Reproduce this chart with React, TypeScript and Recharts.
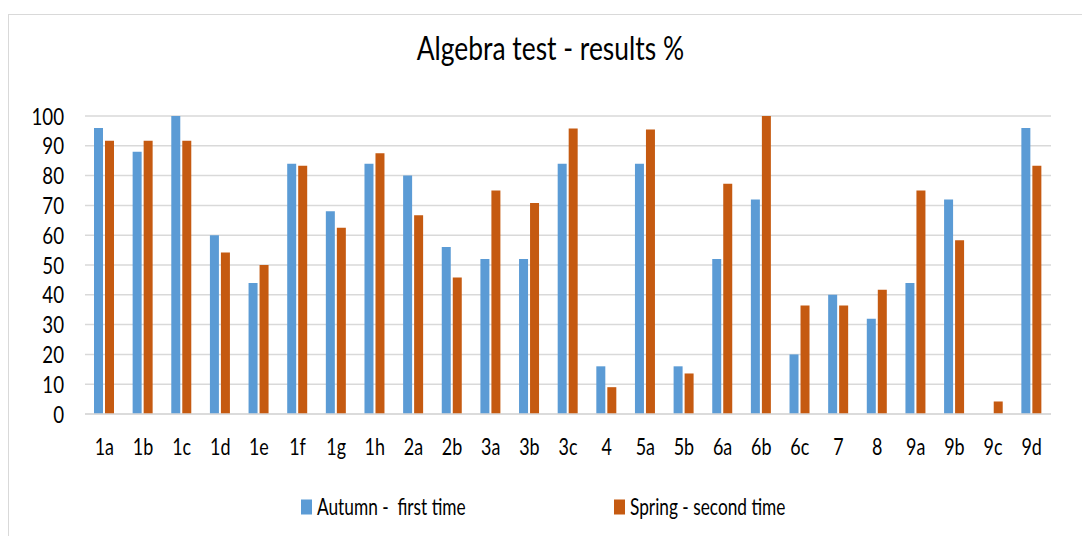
import { Bar, BarChart, CartesianGrid, Legend, XAxis, YAxis } from "recharts";

// 문항별 결과 (%)
const questions = [
  "1a", "1b", "1c", "1d", "1e", "1f", "1g", "1h", "2a", "2b", "3a", "3b", "3c",
  "4", "5a", "5b", "6a", "6b", "6c", "7", "8", "9a", "9b", "9c", "9d",
];
const autumn = [96, 88, 100, 60, 44, 84, 68, 84, 80, 56, 52, 52, 84, 16, 84, 16, 52, 72, 20, 40, 32, 44, 72, 0, 96];
const spring = [91.7, 91.7, 91.7, 54.2, 50, 83.3, 62.5, 87.5, 66.7, 45.8, 75, 70.8, 95.8, 9, 95.5, 13.6, 77.3, 100, 36.4, 36.4, 41.7, 75, 58.3, 4.2, 83.3];
const yTicks = [0, 10, 20, 30, 40, 50, 60, 70, 80, 90, 100];

const AUTUMN_NAME = "Autumn -  first time";
const SPRING_NAME = "Spring - second time";

const FONT = "Lato, 'Open Sans', sans-serif";

const chartData = questions.map((q, i) => ({
  question: q,
  autumn: autumn[i],
  spring: spring[i],
}));

// 원본 이미지가 세로로 늘어나 있어서 글자를 가로로 살짝 줄여 그림
function YTick({ x, y, payload }: any) {
  return (
    <g transform={`translate(${x},${y}) scale(0.78,1)`}>
      <text x={0} y={0} dy='0.36em' textAnchor='end' fontSize={24} fill='#000' fontFamily={FONT}>
        {payload.value}
      </text>
    </g>
  );
}

function XTick({ x, y, payload }: any) {
  return (
    <g transform={`translate(${x},${y}) scale(0.78,1)`}>
      <text x={0} y={41} textAnchor='middle' fontSize={23} fill='#000' fontFamily={FONT}>
        {payload.value}
      </text>
    </g>
  );
}

function LegendContent({ payload }: any) {
  const spots = [301, 614];
  return (
    <svg width={1082} height={40} style={{ overflow: "visible", display: "block" }}>
      {(payload || []).map((item: any, i: number) => (
        <g key={item.value}>
          <rect x={spots[i]} y={19.5} width={11} height={15} fill={item.color} />
          <g transform={`translate(${spots[i] + 16},35) scale(0.72,1)`}>
            <text x={0} y={0} fontSize={24} fill='#000' fontFamily={FONT} style={{ whiteSpace: "pre" }}>
              {item.value}
            </text>
          </g>
        </g>
      ))}
    </svg>
  );
}

export default function App() {
  return (
    <div style={{ position: "absolute", left: 0, top: 0, width: 1082, height: 536, background: "#fff", overflow: "hidden" }}>
      <div
        style={{
          position: "absolute",
          left: 8,
          top: 14,
          width: 1074,
          height: 522,
          borderTop: "1px solid #d9d9d9",
          borderLeft: "1px solid #d9d9d9",
        }}
      />
      <div
        style={{
          position: "absolute",
          left: 0,
          top: 27,
          width: 1101,
          textAlign: "center",
          fontFamily: FONT,
          fontSize: 33,
          color: "#000",
          transform: "scale(0.8,1)",
          transformOrigin: "550px 0",
          lineHeight: "40px",
        }}
      >
        Algebra test - results %
      </div>
      <div style={{ position: "absolute", left: 0, top: 0 }}>
        <BarChart
          width={1082}
          height={536}
          data={chartData}
          margin={{ top: 116, right: 31, bottom: 92, left: 0 }}
          barGap={2}
          barSize={9}
        >
          <CartesianGrid vertical={false} stroke='#d9d9d9' strokeWidth={1.5} />
          <XAxis
            dataKey='question'
            axisLine={{ stroke: "#d9d9d9", strokeWidth: 1.5 }}
            tickLine={false}
            tickSize={0}
            tickMargin={0}
            interval={0}
            tick={<XTick />}
          />
          <YAxis
            domain={[0, 100]}
            ticks={yTicks}
            interval={0}
            width={85}
            axisLine={false}
            tickLine={false}
            tickSize={0}
            tickMargin={21}
            tick={<YTick />}
          />
          <Legend
            verticalAlign='bottom'
            content={<LegendContent />}
            wrapperStyle={{ position: "absolute", left: 0, top: 480, width: 1082, height: 0, overflow: "visible" }}
          />
          <Bar dataKey='autumn' name={AUTUMN_NAME} fill='#5b9bd5' isAnimationActive={false} />
          <Bar dataKey='spring' name={SPRING_NAME} fill='#c55a11' isAnimationActive={false} />
        </BarChart>
      </div>
    </div>
  );
}
